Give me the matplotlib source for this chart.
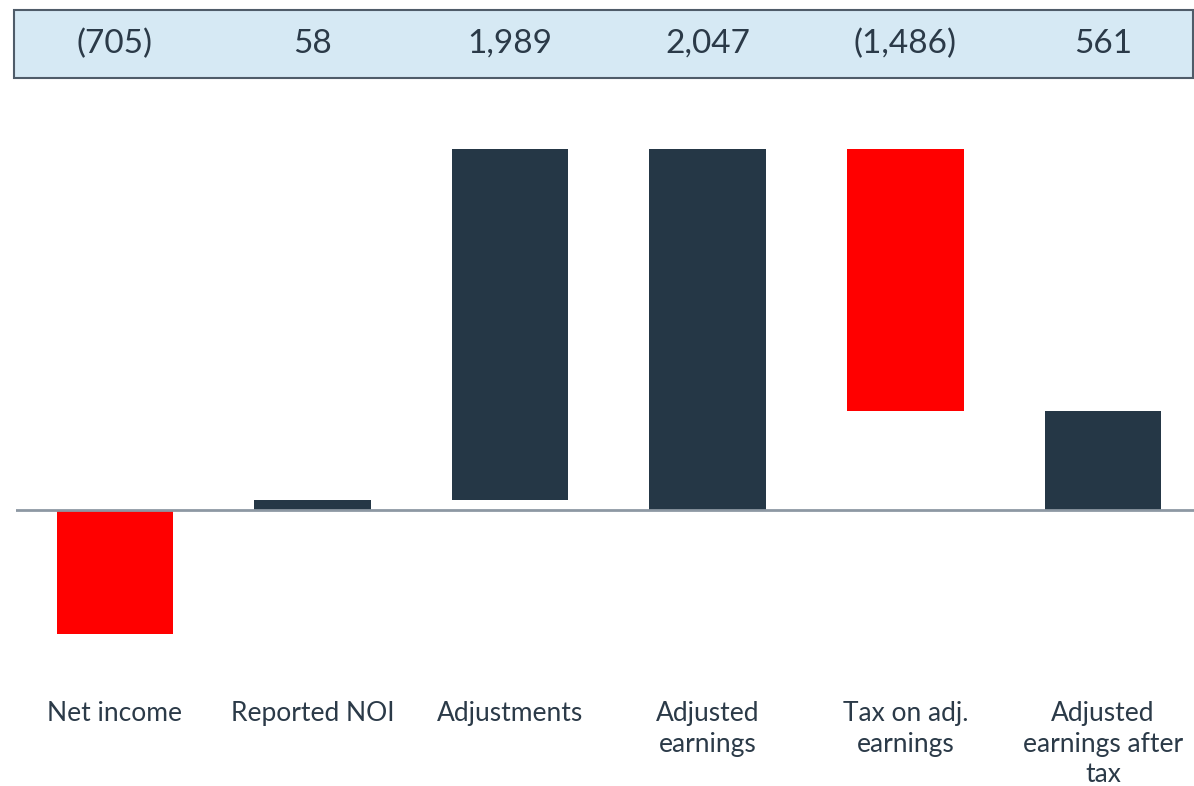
import matplotlib.pyplot as plt
import matplotlib.transforms as mtransforms
from matplotlib.patches import Rectangle

categories = ["Net income", "Reported NOI", "Adjustments",
              "Adjusted\nearnings", "Tax on adj.\nearnings",
              "Adjusted\nearnings after\ntax"]
values = [-705, 58, 1989, 2047, -1486, 561]
# waterfall: which bars start from zero
is_total = [True, True, False, True, False, True]
header_labels = ["(705)", "58", "1,989", "2,047", "(1,486)", "561"]

DARK = "#253746"
RED = "#ff0000"
TEXT = "#2b3a48"

plt.rcParams['font.family'] = ['Lato', 'DejaVu Sans']

fig = plt.figure(figsize=(11.94, 7.86), dpi=100)
W, H = 1194, 786
ax = fig.add_axes([16 / W, 1 - 651 / H, 1 - 16 / W, (651 - 139.6) / H])

bottoms = []
running = 0
for i, v in enumerate(values):
    if is_total[i]:
        bottoms.append(0)
        running = v
    else:
        bottoms.append(running)
        running = running + v

colors = [RED if v < 0 else DARK for v in values]
ax.bar(range(len(values)), values, bottom=bottoms, width=0.59,
       color=colors, zorder=2)

ax.axhline(0, color="#8d98a3", lw=2, zorder=3)
ax.set_xlim(-0.5, 5.46)
ax.set_ylim(-800, 2100)
ax.set_yticks([])
ax.set_xticks(range(len(categories)))
ax.set_xticklabels(categories, fontsize=19, color=TEXT, linespacing=1.28)
ax.tick_params(axis='x', length=0, pad=36)
for s in ax.spines.values():
    s.set_visible(False)

# header band with the values
fig.patches.append(Rectangle((14 / W, 1 - 78 / H), (1193 - 14) / W, 68 / H,
                             transform=fig.transFigure, facecolor="#d6e9f4",
                             edgecolor="#4f5c69", lw=1.5, zorder=-1))
trans = mtransforms.blended_transform_factory(ax.transData, fig.transFigure)
for i, lab in enumerate(header_labels):
    ax.text(i, 1 - 44 / H, lab, transform=trans, ha='center', va='center',
            fontsize=24, color=TEXT, clip_on=False, zorder=5)

fig.savefig("out.png", dpi=100)
